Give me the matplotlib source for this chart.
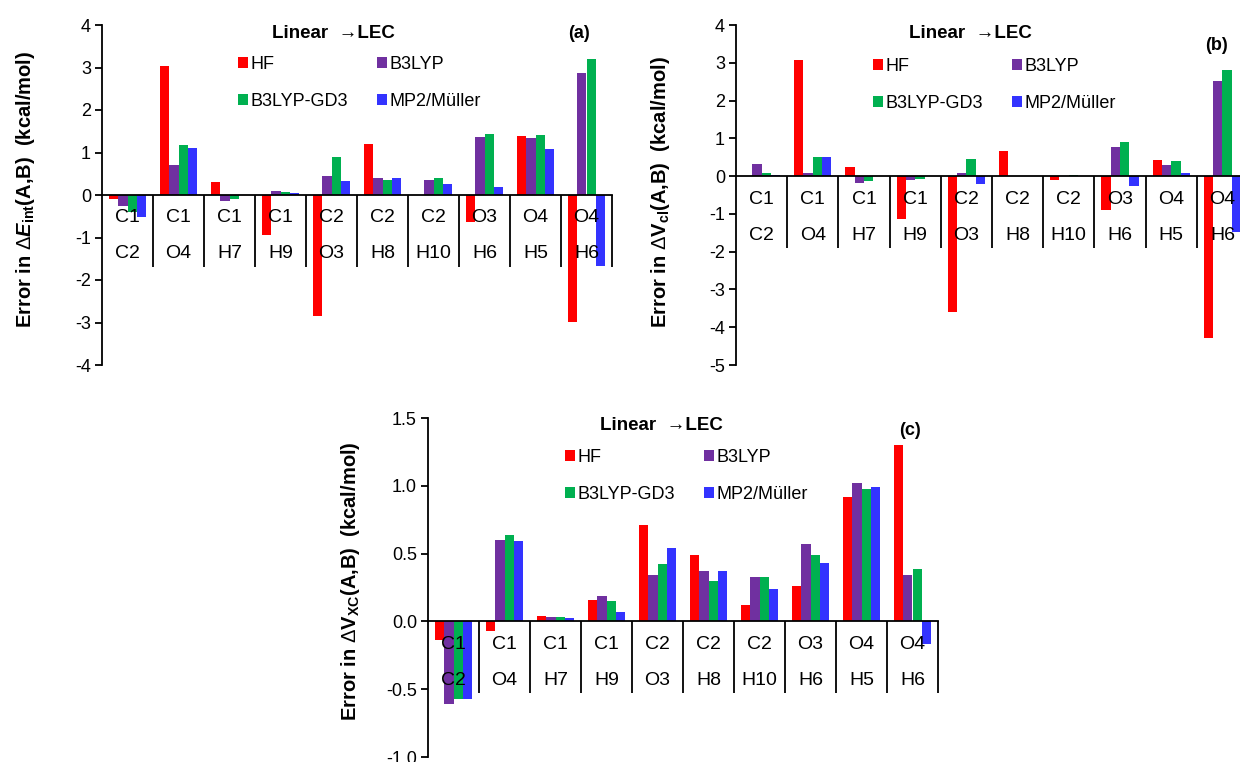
import numpy as np
import matplotlib.pyplot as plt
from matplotlib.ticker import FormatStrFormatter

plt.rcParams['font.family'] = ['Liberation Sans', 'DejaVu Sans']
plt.rcParams['axes.unicode_minus'] = False
plt.rcParams['mathtext.fontset'] = 'custom'
plt.rcParams['mathtext.rm'] = 'Liberation Sans'
plt.rcParams['mathtext.it'] = 'Liberation Sans:italic:bold'
plt.rcParams['mathtext.bf'] = 'Liberation Sans:bold'

# atom pairs (two label rows)
pair_top = ["C1", "C1", "C1", "C1", "C2", "C2", "C2", "O3", "O4", "O4"]
pair_bottom = ["C2", "O4", "H7", "H9", "O3", "H8", "H10", "H6", "H5", "H6"]

methods = ["HF", "B3LYP", "B3LYP-GD3", "MP2/Müller"]
colors = ["#ff0000", "#7030a0", "#00b050", "#3333ff"]

# (a) error in dE_int
a_hf = [-0.10, 3.04, 0.30, -0.94, -2.85, 1.20, 0.00, -0.64, 1.39, -2.98]
a_b3lyp = [-0.25, 0.71, -0.14, 0.09, 0.45, 0.39, 0.35, 1.37, 1.33, 2.88]
a_gd3 = [-0.40, 1.18, -0.10, 0.06, 0.89, 0.35, 0.39, 1.44, 1.41, 3.20]
a_mp2 = [-0.52, 1.10, 0.00, 0.04, 0.33, 0.39, 0.25, 0.18, 1.08, -1.66]

# (b) error in dV_cl
b_hf = [0.00, 3.08, 0.25, -1.13, -3.60, 0.66, -0.10, -0.91, 0.42, -4.28]
b_b3lyp = [0.33, 0.08, -0.19, -0.10, 0.09, 0.00, 0.00, 0.78, 0.29, 2.53]
b_gd3 = [0.09, 0.51, -0.14, -0.08, 0.45, 0.00, 0.03, 0.91, 0.40, 2.80]
b_mp2 = [0.04, 0.51, 0.00, 0.00, -0.22, 0.00, 0.00, -0.25, 0.07, -1.48]

# (c) error in dV_XC
c_hf = [-0.14, -0.07, 0.04, 0.16, 0.71, 0.49, 0.12, 0.26, 0.92, 1.30]
c_b3lyp = [-0.61, 0.60, 0.03, 0.19, 0.34, 0.37, 0.33, 0.57, 1.02, 0.34]
c_gd3 = [-0.57, 0.64, 0.03, 0.15, 0.42, 0.30, 0.33, 0.49, 0.98, 0.39]
c_mp2 = [-0.57, 0.59, 0.025, 0.07, 0.54, 0.37, 0.24, 0.43, 0.99, -0.17]

W, H = 1240, 762
fig = plt.figure(figsize=(W / 100, H / 100), dpi=100)


def panel(rect_px, series, ylim, yticks, ylabel, tag, fmt, leg_xy, tag_xy):
    left, top, right, bottom = rect_px
    ax = fig.add_axes([left / W, 1 - bottom / H, (right - left) / W, (bottom - top) / H])
    x = np.arange(len(pair_top))
    w = 1 / 5.5
    bars = []
    for k, (vals, col) in enumerate(zip(series, colors)):
        b = ax.bar(x + (k - 1.5) * w, vals, width=w, color=col, label=methods[k], zorder=2)
        bars.append(b)
    ax.set_xlim(-0.5, 9.5)
    ax.set_ylim(*ylim)
    ax.set_yticks(yticks)
    ax.yaxis.set_major_formatter(FormatStrFormatter(fmt))
    ax.tick_params(axis='y', direction='out', length=5, width=1.3, pad=3, labelsize=13)
    ax.tick_params(axis='x', bottom=False, labelbottom=False)
    for s in ['top', 'right']:
        ax.spines[s].set_visible(False)
    ax.spines['bottom'].set_position(('data', 0))
    ax.spines['left'].set_linewidth(1.3)
    ax.spines['bottom'].set_linewidth(1.3)

    # two-row category labels and separators below the zero line
    px_per_unit = (bottom - top) / (ylim[1] - ylim[0])
    sep = -72 / px_per_unit
    ax.vlines(x + 0.5, sep, 0, color='black', linewidth=1.3, clip_on=False, zorder=3)
    for i in x:
        ax.annotate(pair_top[i], (i, 0), xytext=(0, -23 * 0.72), textcoords='offset points',
                    ha='center', va='center', fontsize=14, annotation_clip=False, zorder=4)
        ax.annotate(pair_bottom[i], (i, 0), xytext=(0, -59 * 0.72), textcoords='offset points',
                    ha='center', va='center', fontsize=14, annotation_clip=False, zorder=4)

    ax.set_ylabel(ylabel, fontsize=14.5, fontweight='bold', va='center')
    lx = (leg_xy[2] - left) / (right - left)
    ax.yaxis.set_label_coords(lx, (bottom - leg_xy[3]) / (bottom - top))

    tx = ((leg_xy[0] - left) / (right - left), (bottom - leg_xy[1]) / (bottom - top))
    ax.text(tx[0], tx[1], "Linear  \u2192LEC", transform=ax.transAxes, ha='center',
            va='center', fontsize=13.5, fontweight='bold')
    ax.text((tag_xy[0] - left) / (right - left), (bottom - tag_xy[1]) / (bottom - top), tag,
            transform=ax.transAxes, ha='center', va='center', fontsize=13, fontweight='bold')

    order = [0, 2, 1, 3]
    ax.legend([bars[i] for i in order], [methods[i] for i in order], ncol=2, frameon=False,
              loc='upper left',
              bbox_to_anchor=((tag_xy[2] - left) / (right - left), (bottom - tag_xy[3]) / (bottom - top)),
              fontsize=13, handlelength=0.55, handleheight=0.6, handletextpad=0.15,
              columnspacing=1.6, labelspacing=1.1, borderpad=0, borderaxespad=0)
    return ax


# leg_xy: (title x, title y, ylabel x, ylabel y); tag_xy: (tag x, tag y, legend left, legend top)
panel((102, 25, 612, 365), [a_hf, a_b3lyp, a_gd3, a_mp2], (-4, 4), np.arange(-4, 5, 1),
      r"Error in $\Delta\mathit{E}_{\mathbf{int}}$(A,B)  (kcal/mol)", "(a)", "%d",
      (333, 33, 26, 189), (579, 33, 238, 56))
panel((736, 25, 1248, 365), [b_hf, b_b3lyp, b_gd3, b_mp2], (-5, 4), np.arange(-5, 5, 1),
      r"Error in $\Delta\mathbf{V}_{\mathbf{cl}}$(A,B)  (kcal/mol)", "(b)", "%d",
      (970, 34, 660, 192), (1217, 45, 873, 58))
panel((428, 418, 938, 757), [c_hf, c_b3lyp, c_gd3, c_mp2], (-1.0, 1.5), np.arange(-1.0, 1.51, 0.5),
      r"Error in $\Delta\mathbf{V}_{\mathbf{XC}}$(A,B)  (kcal/mol)", "(c)", "%.1f",
      (661, 425, 351, 581), (910, 430, 565, 449))

fig.savefig("out.png", dpi=100)
